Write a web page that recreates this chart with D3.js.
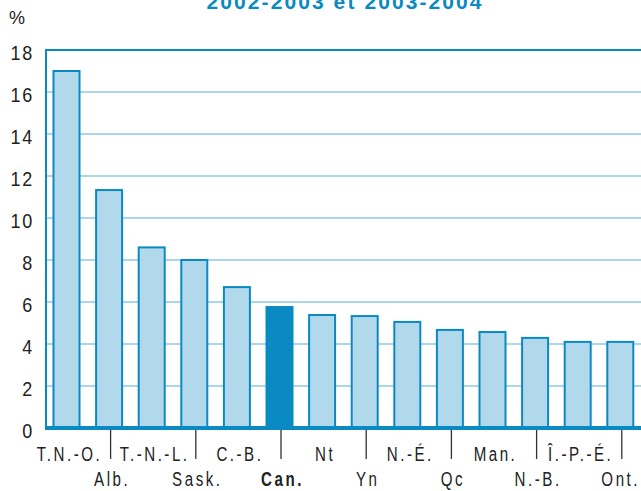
<!DOCTYPE html>
<html><head><meta charset="utf-8">
<script src="https://cdn.jsdelivr.net/npm/d3@7"></script>
<style>body{margin:0;background:#fff}svg{display:block}</style>
</head><body>
<svg id="c" width="641" height="491"></svg>
<script>
const categories = ["T.N.-O.","Alb.","T.-N.-L.","Sask.","C.-B.","Can.","Nt","Yn","N.-É.","Qc","Man.","N.-B.","Î.-P.-É.","Ont."];
const values = [17.0, 11.33, 8.6, 8.0, 6.71, 5.76, 5.38, 5.33, 5.05, 4.67, 4.57, 4.29, 4.1, 4.1];
const yTicks = [0,2,4,6,8,10,12,14,16,18];
const title = "2002-2003  et  2003-2004";
const highlight = "Can.";

const dark = "#0a8ac2", light = "#b1d9eb", grid = "#acd6ea";
const font = "'Liberation Sans',Arial,sans-serif";
const W = 641;
const svg = d3.select("#c");
const y = d3.scaleLinear().domain([0,18]).range([428,50]);
const x = d3.scaleBand().domain(categories).range([45.2, 641.6]).paddingInner(0.39).paddingOuter(0.195);
const cx = d => x(d) + x.bandwidth()/2;

// title (clipped at top, as in the reference)
svg.append("text").attr("x",344).attr("y",9).attr("text-anchor","middle")
  .attr("font-family",font).attr("font-weight","bold").attr("font-size",21)
  .attr("fill",dark).attr("textLength",275).attr("lengthAdjust","spacing").text(title);

svg.append("text").attr("x",9).attr("y",24).attr("font-family",font).attr("font-size",18)
  .attr("fill","#222").text("%");

// gridlines
svg.append("g").selectAll("line").data(yTicks.filter(d=>d>0&&d<18)).join("line")
  .attr("x1",47).attr("x2",W).attr("y1",d=>y(d)).attr("y2",d=>y(d))
  .attr("stroke",grid).attr("stroke-width",2);

// y labels
svg.append("g").selectAll("text").data(yTicks).join("text")
  .attr("text-anchor","end")
  .attr("transform",d=>`translate(34,${y(d)+10}) scale(0.9,1)`)
  .attr("font-family",font).attr("font-size",20).attr("letter-spacing",2).attr("fill","#222")
  .text(d=>d);

// frame
svg.append("path").attr("d",`M46,428V50H${W}`).attr("fill","none").attr("stroke",dark).attr("stroke-width",2);

// bars
svg.append("g").selectAll("rect").data(categories).join("rect")
  .attr("x",d=>x(d)).attr("width",x.bandwidth())
  .attr("y",(d,i)=>y(values[i])).attr("height",(d,i)=>y(0)-y(values[i]))
  .attr("fill",d=>d===highlight?dark:light).attr("stroke",dark).attr("stroke-width",2);

// axis
svg.append("line").attr("x1",45).attr("x2",W).attr("y1",428).attr("y2",428).attr("stroke",dark).attr("stroke-width",4);

// ticks above lower-row labels
svg.append("g").selectAll("line").data(categories.filter((d,i)=>i%2===1)).join("line")
  .attr("x1",d=>cx(d)+1.5).attr("x2",d=>cx(d)+1.5)
  .attr("y1",430).attr("y2",459).attr("stroke","#333").attr("stroke-width",1.3);

// x labels
const sx = 0.72;
svg.append("g").selectAll("text").data(categories).join("text")
  .attr("text-anchor","middle").attr("font-family",font).attr("font-size",21)
  .attr("letter-spacing",3.5)
  .attr("font-weight",d=>d===highlight?"bold":"normal").attr("fill","#222")
  .text(d=>d)
  .each(function(d,i){
    const half = this.getComputedTextLength()*sx/2;
    const px = Math.min(cx(d)+3, W - 1 - half);
    d3.select(this).attr("transform",`translate(${px},${i%2===0?461:486}) scale(${sx},1)`);
  });
</script>
</body></html>
